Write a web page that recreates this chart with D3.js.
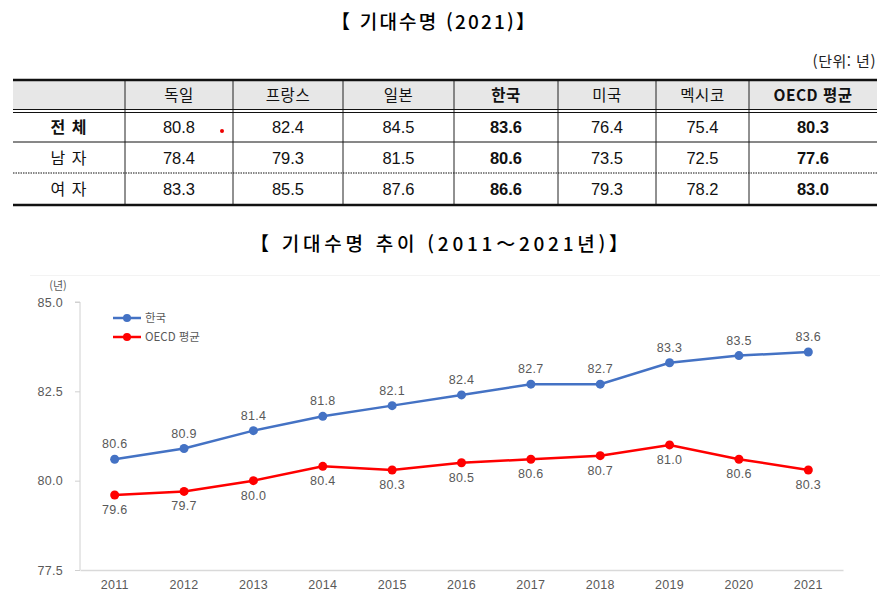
<!DOCTYPE html>
<html lang="ko">
<head>
<meta charset="UTF-8">
<title>기대수명</title>
<script src="https://cdn.jsdelivr.net/npm/d3@7"></script>
<style>
  body { margin: 0; background: #fff; }
  svg { display: block; }
</style>
</head>
<body>
<script>
// 표 데이터 (2021)
var countries = ["독일", "프랑스", "일본", "한국", "미국", "멕시코", "OECD 평균"];
var rowLabels = ["전 체", "남 자", "여 자"];
var totalValues = ["80.8", "82.4", "84.5", "83.6", "76.4", "75.4", "80.3"];
var maleValues = ["78.4", "79.3", "81.5", "80.6", "73.5", "72.5", "77.6"];
var femaleValues = ["83.3", "85.5", "87.6", "86.6", "79.3", "78.2", "83.0"];
var boldCountries = ["한국", "OECD 평균"];

// 추이 데이터 (2011~2021)
var years = ["2011", "2012", "2013", "2014", "2015", "2016", "2017", "2018", "2019", "2020", "2021"];
var korea = [80.6, 80.9, 81.4, 81.8, 82.1, 82.4, 82.7, 82.7, 83.3, 83.5, 83.6];
var oecd = [79.6, 79.7, 80.0, 80.4, 80.3, 80.5, 80.6, 80.7, 81.0, 80.6, 80.3];
var yTicks = [77.5, 80.0, 82.5, 85.0];
var seriesNames = ["한국", "OECD 평균"];

var width = 886, height = 602;
var kr = "'Noto Sans CJK KR', 'Noto Sans', sans-serif";
var num = "'Liberation Sans Narrow', 'Liberation Sans', Arial, sans-serif";
var lab = "'Liberation Sans', Arial, sans-serif";

var svg = d3.select("body").append("svg")
  .attr("width", width)
  .attr("height", height);

// ---------- 제목 ----------
svg.append("text")
  .attr("x", 433).attr("y", 29)
  .attr("text-anchor", "middle")
  .attr("font-family", kr)
  .attr("font-size", 19)
  .attr("font-weight", 500)
  .attr("textLength", 204)
  .attr("lengthAdjust", "spacing")
  .text("【 기대수명 (2021)】");

svg.append("text")
  .attr("x", 876).attr("y", 67)
  .attr("text-anchor", "end")
  .attr("font-family", kr)
  .attr("font-size", 15)
  .attr("letter-spacing", 0.5)
  .attr("fill", "#222")
  .text("(단위: 년)");

// ---------- 표 ----------
var colEdges = [13, 125, 233, 343, 454, 558, 656, 749, 877];
var rowTop = [80, 112, 142, 173, 205];
var tbl = svg.append("g");

// 헤더 배경
tbl.append("rect")
  .attr("x", colEdges[0]).attr("y", rowTop[0])
  .attr("width", colEdges[8] - colEdges[0]).attr("height", 29)
  .attr("fill", "#e7e7e7");

// 세로선
tbl.selectAll("line.v")
  .data(colEdges.slice(1, -1))
  .enter().append("line")
  .attr("class", "v")
  .attr("x1", function(d) { return d; }).attr("x2", function(d) { return d; })
  .attr("y1", rowTop[0]).attr("y2", rowTop[4])
  .attr("stroke", "#222").attr("stroke-width", 1);

// 가로선
function hline(y, w, dash) {
  tbl.append("line")
    .attr("x1", colEdges[0]).attr("x2", colEdges[8])
    .attr("y1", y).attr("y2", y)
    .attr("stroke", "#111")
    .attr("stroke-width", w)
    .attr("stroke-dasharray", dash || null);
}
hline(rowTop[0], 2.5);
hline(109.5, 1);
hline(112.5, 1);
hline(rowTop[2], 1);
hline(rowTop[3], 1, "1.5,1");
hline(rowTop[4], 2.5);

function colCenter(i) { return (colEdges[i] + colEdges[i + 1]) / 2; }

// 헤더 텍스트
tbl.selectAll("text.head")
  .data(countries)
  .enter().append("text")
  .attr("class", "head")
  .attr("x", function(d, i) { return colCenter(i + 1); })
  .attr("y", 101)
  .attr("text-anchor", "middle")
  .attr("font-family", kr)
  .attr("font-size", 15.5)
  .attr("letter-spacing", 0.5)
  .attr("font-weight", function(d) { return boldCountries.indexOf(d) >= 0 ? 700 : 400; })
  .attr("fill", "#111")
  .text(function(d) { return d; });

var rows = [totalValues, maleValues, femaleValues];
rows.forEach(function(vals, r) {
  var yMid = (rowTop[r + 1] + rowTop[r + 2]) / 2 + 6;
  tbl.append("text")
    .attr("x", colCenter(0)).attr("y", yMid)
    .attr("text-anchor", "middle")
    .attr("font-family", kr)
    .attr("font-size", 16)
    .attr("letter-spacing", 1)
    .attr("font-weight", r === 0 ? 700 : 400)
    .attr("fill", "#111")
    .text(rowLabels[r]);
  tbl.selectAll("text.r" + r)
    .data(vals)
    .enter().append("text")
    .attr("class", "r" + r)
    .attr("x", function(d, i) { return colCenter(i + 1); })
    .attr("y", yMid)
    .attr("text-anchor", "middle")
    .attr("font-family", num)
    .attr("font-size", 16.5)
    .attr("font-weight", function(d, i) { return boldCountries.indexOf(countries[i]) >= 0 ? 700 : 400; })
    .attr("fill", "#111")
    .text(function(d) { return d; });
});

// 붉은 점 (원본 표의 표시)
tbl.append("circle").attr("cx", 222).attr("cy", 131).attr("r", 2).attr("fill", "#e00");

// ---------- 추이 제목 ----------
svg.append("text")
  .attr("x", 439).attr("y", 251)
  .attr("text-anchor", "middle")
  .attr("font-family", kr)
  .attr("font-size", 19)
  .attr("font-weight", 500)
  .attr("textLength", 378)
  .attr("lengthAdjust", "spacing")
  .text("【 기대수명  추이 (2011～2021년)】");

// 차트 영역 테두리 (희미한 선)
svg.append("line")
  .attr("x1", 30).attr("x2", 880).attr("y1", 275.5).attr("y2", 275.5)
  .attr("stroke", "#f3f3f3");

// ---------- 선 그래프 ----------
var x = d3.scaleBand().domain(years).range([80, 843]);
var y = d3.scaleLinear().domain([77.5, 85]).range([570, 302]);
function cx(i) { return x(years[i]) + x.bandwidth() / 2; }

var gy = svg.append("g")
  .attr("transform", "translate(80,0)")
  .call(d3.axisLeft(y).tickValues(yTicks).tickSize(5).tickFormat(d3.format(".1f")));
gy.select(".domain").attr("stroke", "#d0d0d0").attr("d", "M-5,302H0V570");
gy.selectAll(".tick line").attr("stroke", "#d0d0d0");
gy.selectAll(".tick text")
  .attr("x", -17)
  .attr("font-family", lab)
  .attr("font-size", 12.5)
  .attr("letter-spacing", 0.3)
  .attr("fill", "#595959");

var gx = svg.append("g")
  .attr("transform", "translate(0,570)")
  .call(d3.axisBottom(x).tickSize(0));
gx.select(".domain").attr("stroke", "#d9d9d9").attr("stroke-width", 1.5);
gx.selectAll(".tick text")
  .attr("dy", "1.25em")
  .attr("font-family", lab)
  .attr("font-size", 12.5)
  .attr("letter-spacing", 0.3)
  .attr("fill", "#595959");

svg.append("text")
  .attr("x", 58).attr("y", 290)
  .attr("text-anchor", "middle")
  .attr("font-family", kr)
  .attr("font-size", 11)
  .attr("fill", "#595959")
  .text("(년)");

var series = [
  { name: seriesNames[0], values: korea, color: "#4472c4", dy: -11 },
  { name: seriesNames[1], values: oecd, color: "#ff0000", dy: 19 }
];

var line = d3.line()
  .x(function(d, i) { return cx(i); })
  .y(function(d) { return y(d); });

series.forEach(function(s) {
  svg.append("path")
    .attr("d", line(s.values))
    .attr("fill", "none")
    .attr("stroke", s.color)
    .attr("stroke-width", 2.5);
  svg.selectAll(null)
    .data(s.values)
    .enter().append("circle")
    .attr("cx", function(d, i) { return cx(i); })
    .attr("cy", function(d) { return y(d); })
    .attr("r", 4.5)
    .attr("fill", s.color);
  svg.selectAll(null)
    .data(s.values)
    .enter().append("text")
    .attr("x", function(d, i) { return cx(i); })
    .attr("y", function(d) { return y(d) + s.dy; })
    .attr("text-anchor", "middle")
    .attr("font-family", lab)
    .attr("font-size", 12.5)
    .attr("letter-spacing", 0.3)
    .attr("fill", "#595959")
    .text(function(d) { return d3.format(".1f")(d); });
});

// 범례
var legend = svg.append("g").attr("transform", "translate(113,318)");
series.forEach(function(s, i) {
  var g = legend.append("g").attr("transform", "translate(0," + (i * 19) + ")");
  g.append("line").attr("x1", 0).attr("x2", 28).attr("y1", 0).attr("y2", 0)
    .attr("stroke", s.color).attr("stroke-width", 2.5);
  g.append("circle").attr("cx", 14).attr("cy", 0).attr("r", 4).attr("fill", s.color);
  g.append("text").attr("x", 32).attr("y", 4)
    .attr("font-family", kr)
    .attr("font-size", 11.5)
    .attr("fill", "#595959")
    .text(s.name);
});
</script>
</body>
</html>
